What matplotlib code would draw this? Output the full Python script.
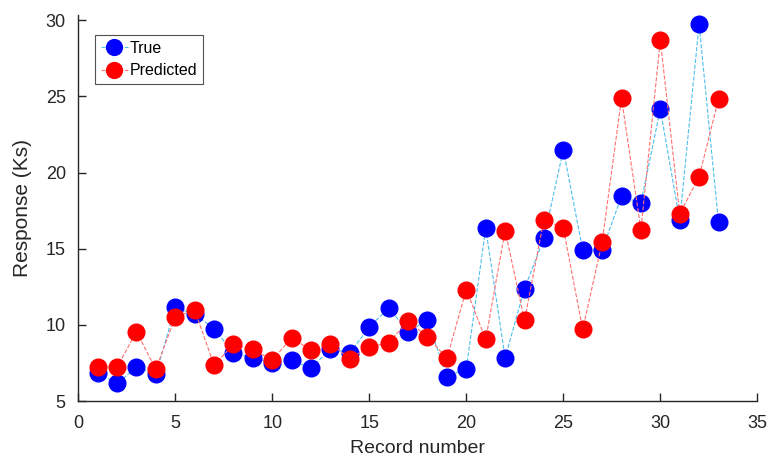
import matplotlib
matplotlib.use('Agg')
import matplotlib.pyplot as plt

# record numbers and responses
records = list(range(1, 34))
true_vals = [6.82, 6.16, 7.21, 6.75, 11.16, 10.68, 9.76, 8.13, 7.84, 7.52,
             7.69, 7.14, 8.43, 8.17, 9.85, 11.12, 9.55, 10.31, 6.60, 7.12,
             16.34, 7.84, 12.37, 15.68, 21.49, 14.94, 14.90, 18.43, 18.00, 24.16,
             16.86, 29.73, 16.73]
pred_vals = [7.21, 7.23, 9.55, 7.08, 10.53, 10.96, 7.36, 8.72, 8.39, 7.69,
             9.15, 8.32, 8.76, 7.78, 8.54, 8.83, 10.24, 9.22, 7.80, 12.32,
             9.04, 16.19, 10.29, 16.91, 16.36, 9.70, 15.42, 24.88, 16.25, 28.68,
             17.30, 19.72, 24.82]

plt.rcParams['font.family'] = ['Liberation Sans', 'DejaVu Sans']

fig = plt.figure(figsize=(7.69, 4.65), dpi=100)
ax = fig.add_axes([0.1018, 0.1376, 0.8830, 0.8305])

ax.plot(records, true_vals, '--o', color='#4DBEEE', lw=0.8,
        markerfacecolor='blue', markeredgecolor='blue', markersize=12,
        label='True')
ax.plot(records, pred_vals, '--o', color='#FF7070', lw=0.8,
        markerfacecolor='red', markeredgecolor='red', markersize=12,
        label='Predicted')

ax.set_xlim(0, 35)
ax.set_ylim(5, 30.35)
ax.set_xticks(range(0, 36, 5))
ax.set_yticks(range(5, 31, 5))
ax.spines['top'].set_visible(False)
ax.spines['right'].set_visible(False)
for s in ('left', 'bottom'):
    ax.spines[s].set_color('#262626')
    ax.spines[s].set_linewidth(1.0)
ax.tick_params(direction='in', length=6, width=1.0, colors='#262626',
               labelsize=13)
ax.tick_params(axis='x', pad=10)
ax.tick_params(axis='y', pad=9)

ax.set_xlabel('Record number', fontsize=14, color='#262626', labelpad=6)
ax.set_ylabel('Response (Ks)', fontsize=15, color='#262626', labelpad=10)

leg = ax.legend(loc='upper left', bbox_to_anchor=(0.025, 0.948),
                borderaxespad=0, fontsize=11.5, frameon=True, fancybox=False,
                borderpad=0.35, labelspacing=0.5, handlelength=1.7,
                handletextpad=0.1, markerscale=0.95)
leg.get_frame().set_edgecolor('#262626')
leg.get_frame().set_linewidth(0.8)

fig.savefig('out.png', dpi=100)
